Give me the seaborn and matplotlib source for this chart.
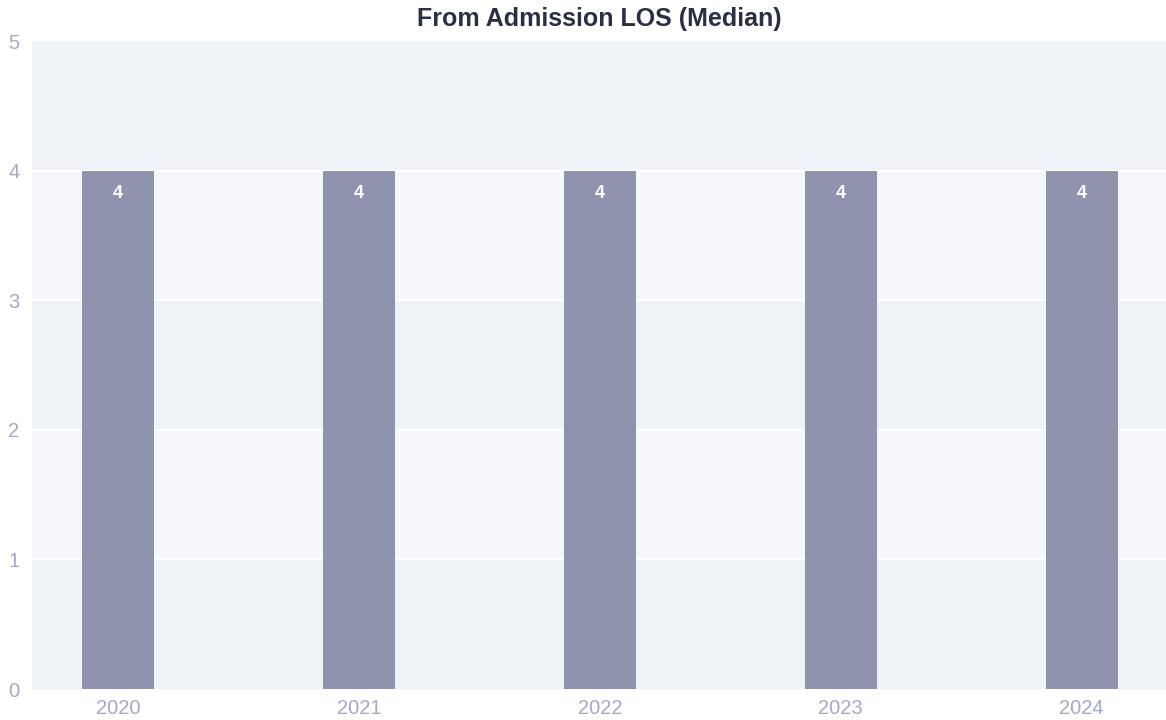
import matplotlib
matplotlib.use("Agg")
import matplotlib.pyplot as plt
import seaborn as sns
import pandas as pd

# data
years = ["2020", "2021", "2022", "2023", "2024"]
los_median = [4, 4, 4, 4, 4]

df = pd.DataFrame({"year": years, "los": los_median})

sns.set_style("white")
plt.rcParams['font.family'] = ['Liberation Sans', 'DejaVu Sans']

fig = plt.figure(figsize=(11.66, 7.2), dpi=100)
ax = fig.add_axes([0.0274, 0.043, 0.9726, 0.9])

# alternating background bands
band_a = "#eff3f8"
band_b = "#f5f7fb"
for i in range(5):
    ax.axhspan(i, i + 1, color=band_a if i % 2 == 0 else band_b, zorder=0, lw=0)
for y in range(1, 5):
    ax.axhline(y, color="white", lw=1.5, zorder=1)

sns.barplot(data=df, x="year", y="los", color="#8f93ae", width=0.3,
            saturation=1, linewidth=0, ax=ax, zorder=2)

for i, v in enumerate(los_median):
    ax.text(i, v - 0.18, str(v), ha="center", va="center", color="white",
            fontsize=13, fontweight="bold", zorder=3)

ax.set_ylim(0, 5)
ax.set_xlim(-0.357, 4.35)
ax.set_yticks([0, 1, 2, 3, 4, 5])
ax.set_xlabel("")
ax.set_ylabel("")
ax.tick_params(axis="both", colors="#a4a9c2", labelsize=14.5, length=0)
ax.tick_params(axis="y", pad=9)
ax.tick_params(axis="x", pad=7)
for s in ax.spines.values():
    s.set_visible(False)

fig.suptitle("From Admission LOS (Median)", x=0.514, y=0.99, fontsize=18,
             fontweight="bold", color="#2a2f45")

fig.savefig("out.png", dpi=100)
